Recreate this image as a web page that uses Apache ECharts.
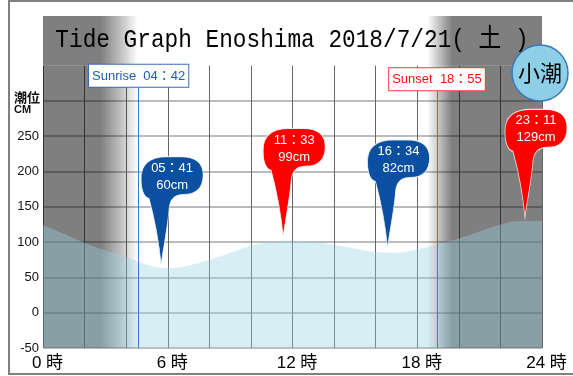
<!DOCTYPE html>
<html>
<head>
<meta charset="utf-8">
<script src="https://cdn.jsdelivr.net/npm/echarts@6/dist/echarts.min.js"></script>
<style>
  html, body { margin: 0; padding: 0; background: #fff; }
  #tideChart { width: 573px; height: 376px; }
</style>
</head>
<body>
<div id="tideChart"></div>
<script>
// 潮位 (cm) 毎時
var hours = [0, 1, 2, 3, 4, 5, 6, 7, 8, 9, 10, 11, 12, 13, 14, 15, 16, 17, 18, 19, 20, 21, 22, 23, 24];
var tideCm = [124, 112, 99, 88, 79, 68, 63, 67, 75, 85, 95, 100, 102, 100, 96, 91, 86, 85, 90, 97, 105, 115, 125, 130, 130];

// 満潮・干潮
var peakTimes = [5.68, 11.55, 16.57, 23.18];
var peakPinCm = [68, 108, 92, 135];
var peakText = ['05：41\n60cm', '11：33\n99cm', '16：34\n82cm', '23：11\n129cm'];
var peakKind = ['low', 'high', 'low', 'high'];

var sunriseAt = 4.6, sunriseText = 'Sunrise  04：42';
var sunsetAt = 18.95, sunsetText = 'Sunset  18：55';

var xTicks = [0, 6, 12, 18, 24];
var yLabelMax = 250;

var tideData = hours.map(function (h, i) { return [h, tideCm[i]] });

// 夜の影
var nightStops = [
    { offset: 0, color: 'rgba(0,0,0,0.5)' },
    { offset: 0.115, color: 'rgba(0,0,0,0.5)' },
    { offset: 0.155, color: 'rgba(0,0,0,0.25)' },
    { offset: 0.19, color: 'rgba(0,0,0,0)' },
    { offset: 0.77, color: 'rgba(0,0,0,0)' },
    { offset: 0.795, color: 'rgba(0,0,0,0.25)' },
    { offset: 0.82, color: 'rgba(0,0,0,0.5)' },
    { offset: 1, color: 'rgba(0,0,0,0.5)' }
];

var balloonPath = 'path://M20 108 C18 86 13 60 8 42 C2 40 0 32 0 22 C0 7 9 0 26 0 L40 0 C54 0 62 6 62 18 C62 32 55 38 42 38 C34 38 29 42 28 52 C27 68 22 92 20 108 Z';

var chart = echarts.init(document.getElementById('tideChart'));

chart.setOption({
    animation: false,
    grid: { left: 43, right: 31, top: 65.6, bottom: 28 },
    xAxis: {
        type: 'value',
        min: 0,
        max: 24,
        interval: 2,
        axisLine: { show: false },
        axisTick: { show: false },
        axisLabel: {
            margin: 7,
            color: '#000',
            fontSize: 17,
            padding: [0, 0, 0, 9],
            fontFamily: "'Liberation Sans','Noto Sans CJK JP'",
            formatter: function (v) {
                return xTicks.indexOf(v) >= 0 ? v + ' 時' : ''
            }
        },
        splitLine: { show: true, lineStyle: { color: '#666', width: 1 } }
    },
    yAxis: {
        type: 'value',
        min: -50,
        max: 350,
        interval: 50,
        axisLine: { show: false },
        axisTick: { show: false },
        axisLabel: {
            margin: 4,
            color: '#111',
            fontSize: 13,
            fontFamily: "'Liberation Sans'",
            formatter: function (v) {
                return v <= yLabelMax ? String(v) : ''
            }
        },
        splitLine: {
            show: true,
            lineStyle: {
                width: 2,
                color: ['#bbb', '#bbb', '#bbb', '#bbb', '#bbb', '#bbb', '#bbb', '#bbb', 'rgba(0,0,0,0)']
            }
        }
    },
    graphic: [
        {
            type: 'rect',
            shape: { x: 9, y: 1, width: 600, height: 373 },
            style: { fill: 'none', stroke: '#808080', lineWidth: 2 }
        },
        {
            type: 'rect',
            shape: { x: 43, y: 16, width: 499, height: 49.6 },
            style: { fill: new echarts.graphic.LinearGradient(0, 0, 1, 0, nightStops) }
        },
        {
            type: 'text',
            x: 292,
            y: 40,
            scaleX: 0.875,
            style: {
                text: 'Tide Graph Enoshima 2018/7/21( 土 )',
                font: "26px 'Liberation Mono','Noto Sans CJK JP'",
                fill: '#000',
                align: 'center',
                verticalAlign: 'middle'
            }
        },
        {
            type: 'circle',
            z: 10,
            shape: { cx: 540, cy: 73, r: 28 },
            style: { fill: '#8dcfe6', stroke: '#3a78b8', lineWidth: 1.5 }
        },
        {
            type: 'text',
            z: 11,
            x: 540,
            y: 73,
            style: {
                text: '小潮',
                font: "22px 'Noto Sans CJK JP'",
                fill: '#000',
                align: 'center',
                verticalAlign: 'middle'
            }
        },
        {
            type: 'text',
            x: 14,
            y: 97,
            style: {
                text: '潮位',
                font: "bold 13px 'Noto Sans CJK JP'",
                fill: '#111',
                verticalAlign: 'middle'
            }
        },
        {
            type: 'text',
            x: 14,
            y: 110,
            style: {
                text: 'CM',
                font: "bold 11px 'Liberation Sans'",
                fill: '#111',
                verticalAlign: 'middle'
            }
        }
    ],
    series: [
        {
            // 夜の影と日の出・日の入り
            name: 'night',
            type: 'line',
            z: 1,
            data: tideData,
            symbol: 'none',
            silent: true,
            lineStyle: { opacity: 0 },
            markArea: {
                silent: true,
                itemStyle: { color: new echarts.graphic.LinearGradient(0, 0, 1, 0, nightStops) },
                data: [[{ xAxis: 0, yAxis: -50 }, { xAxis: 24, yAxis: 350 }]]
            },
            markLine: {
                silent: true,
                symbol: 'none',
                data: [
                    [
                        {
                            coord: [sunriseAt, -50],
                            lineStyle: { color: '#3d78c8', width: 1, type: 'solid' },
                            label: {
                                show: true,
                                position: 'end',
                                distance: 0,
                                formatter: sunriseText,
                                color: '#1f5fae',
                                fontSize: 13,
                                fontFamily: "'Liberation Sans','Noto Sans CJK JP'",
                                backgroundColor: '#fff',
                                borderColor: '#3a6db5',
                                borderWidth: 1,
                                padding: [5, 3, 4, 3]
                            }
                        },
                        { coord: [sunriseAt, 320] }
                    ],
                    [
                        {
                            coord: [sunsetAt, -50],
                            lineStyle: { color: '#f04040', width: 1, type: 'solid' },
                            label: {
                                show: true,
                                position: 'end',
                                distance: 0,
                                formatter: sunsetText,
                                color: '#f01010',
                                fontSize: 13,
                                fontFamily: "'Liberation Sans','Noto Sans CJK JP'",
                                backgroundColor: '#fff',
                                borderColor: '#ff3b3b',
                                borderWidth: 1,
                                padding: [5, 3, 4, 3]
                            }
                        },
                        { coord: [sunsetAt, 315] }
                    ]
                ]
            }
        },
        {
            name: 'tide',
            type: 'line',
            z: 2,
            smooth: true,
            symbol: 'none',
            data: tideData,
            lineStyle: { width: 0 },
            areaStyle: { color: 'rgba(148,211,227,0.54)', origin: 'start' },
            markPoint: {
                silent: true,
                symbol: balloonPath,
                symbolSize: [62, 108],
                symbolOffset: [11, -54],
                label: {
                    show: true,
                    offset: [0, -34],
                    color: '#fff',
                    fontSize: 13,
                    lineHeight: 17,
                    fontFamily: "'Liberation Sans','Noto Sans CJK JP'"
                },
                data: peakTimes.map(function (t, i) {
                    return {
                        coord: [t, peakPinCm[i]],
                        value: peakText[i],
                        itemStyle: {
                            color: peakKind[i] === 'low' ? '#0a4fa0' : '#ff0000',
                            borderColor: 'rgba(255,255,255,0.8)',
                            borderWidth: 1
                        },
                        label: { formatter: peakText[i] }
                    }
                })
            }
        }
    ]
});
</script>
</body>
</html>
